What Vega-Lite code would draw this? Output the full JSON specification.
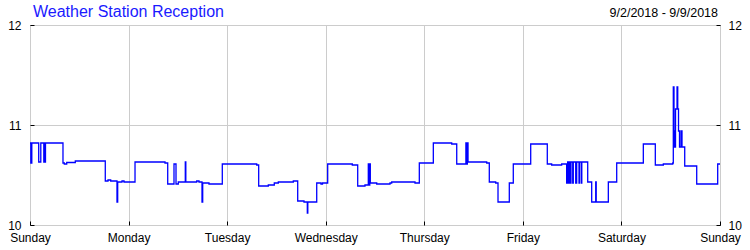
{
  "$schema": "https://vega.github.io/schema/vega-lite/v6.json",
  "width": 690,
  "height": 200,
  "autosize": "none",
  "padding": {"left": 30, "top": 25, "right": 30, "bottom": 25},
  "background": "white",
  "config": {
    "font": "Liberation Sans",
    "view": {"stroke": "black", "strokeWidth": 1},
    "axis": {
      "labelFont": "Liberation Sans",
      "labelFontSize": 12,
      "labelColor": "black",
      "domain": false,
      "tickColor": "black",
      "gridColor": "#cccccc",
      "gridOpacity": 1,
      "title": null
    }
  },
  "data": {"values": [
    {"h": 0, "v": 10.82}, {"h": 0.2, "v": 10.62}, {"h": 0.44, "v": 10.82},
    {"h": 2.12, "v": 10.63}, {"h": 2.63, "v": 10.82}, {"h": 3.36, "v": 10.63},
    {"h": 3.53, "v": 10.82}, {"h": 3.65, "v": 10.63}, {"h": 3.77, "v": 10.82},
    {"h": 8.03, "v": 10.62}, {"h": 8.35, "v": 10.61}, {"h": 8.94, "v": 10.625},
    {"h": 11.03, "v": 10.64}, {"h": 18.33, "v": 10.44}, {"h": 18.99, "v": 10.45},
    {"h": 19.65, "v": 10.44}, {"h": 21.18, "v": 10.23}, {"h": 21.35, "v": 10.43},
    {"h": 22.4, "v": 10.44}, {"h": 22.89, "v": 10.43},
    {"h": 25.57, "v": 10.63}, {"h": 32.87, "v": 10.62}, {"h": 33.53, "v": 10.41},
    {"h": 35.06, "v": 10.61}, {"h": 35.55, "v": 10.41}, {"h": 36.11, "v": 10.43},
    {"h": 37.81, "v": 10.63}, {"h": 37.94, "v": 10.43}, {"h": 40.59, "v": 10.44},
    {"h": 41.15, "v": 10.43}, {"h": 41.88, "v": 10.23}, {"h": 42.05, "v": 10.42},
    {"h": 43.58, "v": 10.41}, {"h": 46.82, "v": 10.61},
    {"h": 55.2, "v": 10.6}, {"h": 55.68, "v": 10.39}, {"h": 58.02, "v": 10.4},
    {"h": 59.48, "v": 10.42}, {"h": 60.46, "v": 10.43}, {"h": 64.11, "v": 10.44},
    {"h": 65.18, "v": 10.24}, {"h": 66.71, "v": 10.23}, {"h": 67.52, "v": 10.12},
    {"h": 67.64, "v": 10.23}, {"h": 69.81, "v": 10.42}, {"h": 70.85, "v": 10.41},
    {"h": 71.22, "v": 10.42}, {"h": 72.48, "v": 10.61},
    {"h": 78.47, "v": 10.6}, {"h": 79.79, "v": 10.39}, {"h": 81.56, "v": 10.4},
    {"h": 82.37, "v": 10.61}, {"h": 82.49, "v": 10.4}, {"h": 82.73, "v": 10.61},
    {"h": 82.86, "v": 10.42}, {"h": 84.42, "v": 10.41}, {"h": 87.65, "v": 10.42},
    {"h": 88.07, "v": 10.43}, {"h": 93.74, "v": 10.42}, {"h": 94.79, "v": 10.62},
    {"h": 98.2, "v": 10.82}, {"h": 102.68, "v": 10.81}, {"h": 103.9, "v": 10.61},
    {"h": 106.13, "v": 10.82}, {"h": 106.28, "v": 10.61}, {"h": 106.48, "v": 10.82},
    {"h": 106.65, "v": 10.63}, {"h": 111.2, "v": 10.62}, {"h": 111.83, "v": 10.43},
    {"h": 113.39, "v": 10.42}, {"h": 113.95, "v": 10.23}, {"h": 116.7, "v": 10.42},
    {"h": 117.67, "v": 10.61},
    {"h": 121.91, "v": 10.81}, {"h": 125.95, "v": 10.61}, {"h": 127.02, "v": 10.6},
    {"h": 129.45, "v": 10.61}, {"h": 130.67, "v": 10.42}, {"h": 130.91, "v": 10.63},
    {"h": 131.07, "v": 10.42}, {"h": 131.24, "v": 10.63}, {"h": 131.48, "v": 10.42},
    {"h": 131.72, "v": 10.63}, {"h": 132.14, "v": 10.42}, {"h": 132.28, "v": 10.63},
    {"h": 132.87, "v": 10.42}, {"h": 133.11, "v": 10.63}, {"h": 133.67, "v": 10.42},
    {"h": 133.79, "v": 10.63}, {"h": 134.23, "v": 10.42}, {"h": 134.35, "v": 10.63},
    {"h": 135.79, "v": 10.43}, {"h": 136.76, "v": 10.23}, {"h": 137.74, "v": 10.43},
    {"h": 137.86, "v": 10.23}, {"h": 140.81, "v": 10.43}, {"h": 142.85, "v": 10.62},
    {"h": 149.33, "v": 10.81}, {"h": 152.25, "v": 10.6}, {"h": 154.2, "v": 10.61},
    {"h": 156.49, "v": 10.62}, {"h": 156.63, "v": 11.38}, {"h": 156.8, "v": 10.94},
    {"h": 156.93, "v": 10.78}, {"h": 157.17, "v": 11.16}, {"h": 157.54, "v": 11.38},
    {"h": 157.71, "v": 11.16}, {"h": 157.9, "v": 10.94}, {"h": 158.14, "v": 10.78},
    {"h": 158.51, "v": 10.94}, {"h": 158.75, "v": 10.78}, {"h": 159.41, "v": 10.59},
    {"h": 162.33, "v": 10.41}, {"h": 167.44, "v": 10.61}, {"h": 168, "v": 10.61}
  ]},
  "layer": [
    {
      "mark": {"type": "line", "interpolate": "step-after", "color": "#0000ff", "strokeWidth": 1.3},
      "encoding": {
        "x": {
          "field": "h", "type": "quantitative",
          "scale": {"domain": [0, 168], "nice": false, "zero": false},
          "axis": {
            "values": [0, 24, 48, 72, 96, 120, 144, 168],
            "tickCount": 8,
            "labelExpr": "['Sunday','Monday','Tuesday','Wednesday','Thursday','Friday','Saturday','Sunday'][round(datum.value/24)]",
            "grid": true, "tickSize": -4, "labelPadding": 11,
            "labelFlush": false, "labelOverlap": false, "labelBound": false
          }
        },
        "y": {
          "field": "v", "type": "quantitative",
          "scale": {"domain": [10, 12], "nice": false, "zero": false},
          "axis": {"values": [10, 11, 12], "tickCount": 3, "labelExpr": "format(datum.value, 'd')", "grid": true, "tickSize": -4, "labelPadding": 13, "labelOverlap": false, "labelBound": false, "labelFlush": false}
        }
      }
    },
    {
      "mark": {"type": "line", "interpolate": "step-after", "strokeOpacity": 0},
      "encoding": {
        "x": {"field": "h", "type": "quantitative"},
        "y": {
          "field": "v", "type": "quantitative",
          "axis": {"orient": "right", "values": [10, 11, 12], "tickCount": 3, "labelExpr": "format(datum.value, 'd')", "grid": false, "tickSize": -4, "labelPadding": 12, "labelOverlap": false, "labelBound": false, "labelFlush": false}
        }
      }
    },
    {
      "data": {"values": [{"label": "Weather Station Reception", "h": 0}]},
      "mark": {"type": "text", "align": "left", "baseline": "alphabetic", "dx": 3, "dy": -8, "fontSize": 16, "color": "#1a1aff", "font": "Liberation Sans"},
      "encoding": {
        "x": {"field": "h", "type": "quantitative"},
        "y": {"datum": 12, "axis": null},
        "text": {"field": "label"}
      }
    },
    {
      "data": {"values": [{"label": "9/2/2018 - 9/9/2018", "h": 168}]},
      "mark": {"type": "text", "align": "right", "baseline": "alphabetic", "dx": -2, "dy": -8, "fontSize": 12.5, "color": "black", "font": "Liberation Sans"},
      "encoding": {
        "x": {"field": "h", "type": "quantitative"},
        "y": {"datum": 12, "axis": null},
        "text": {"field": "label"}
      }
    }
  ],
  "resolve": {"axis": {"y": "independent"}}
}
